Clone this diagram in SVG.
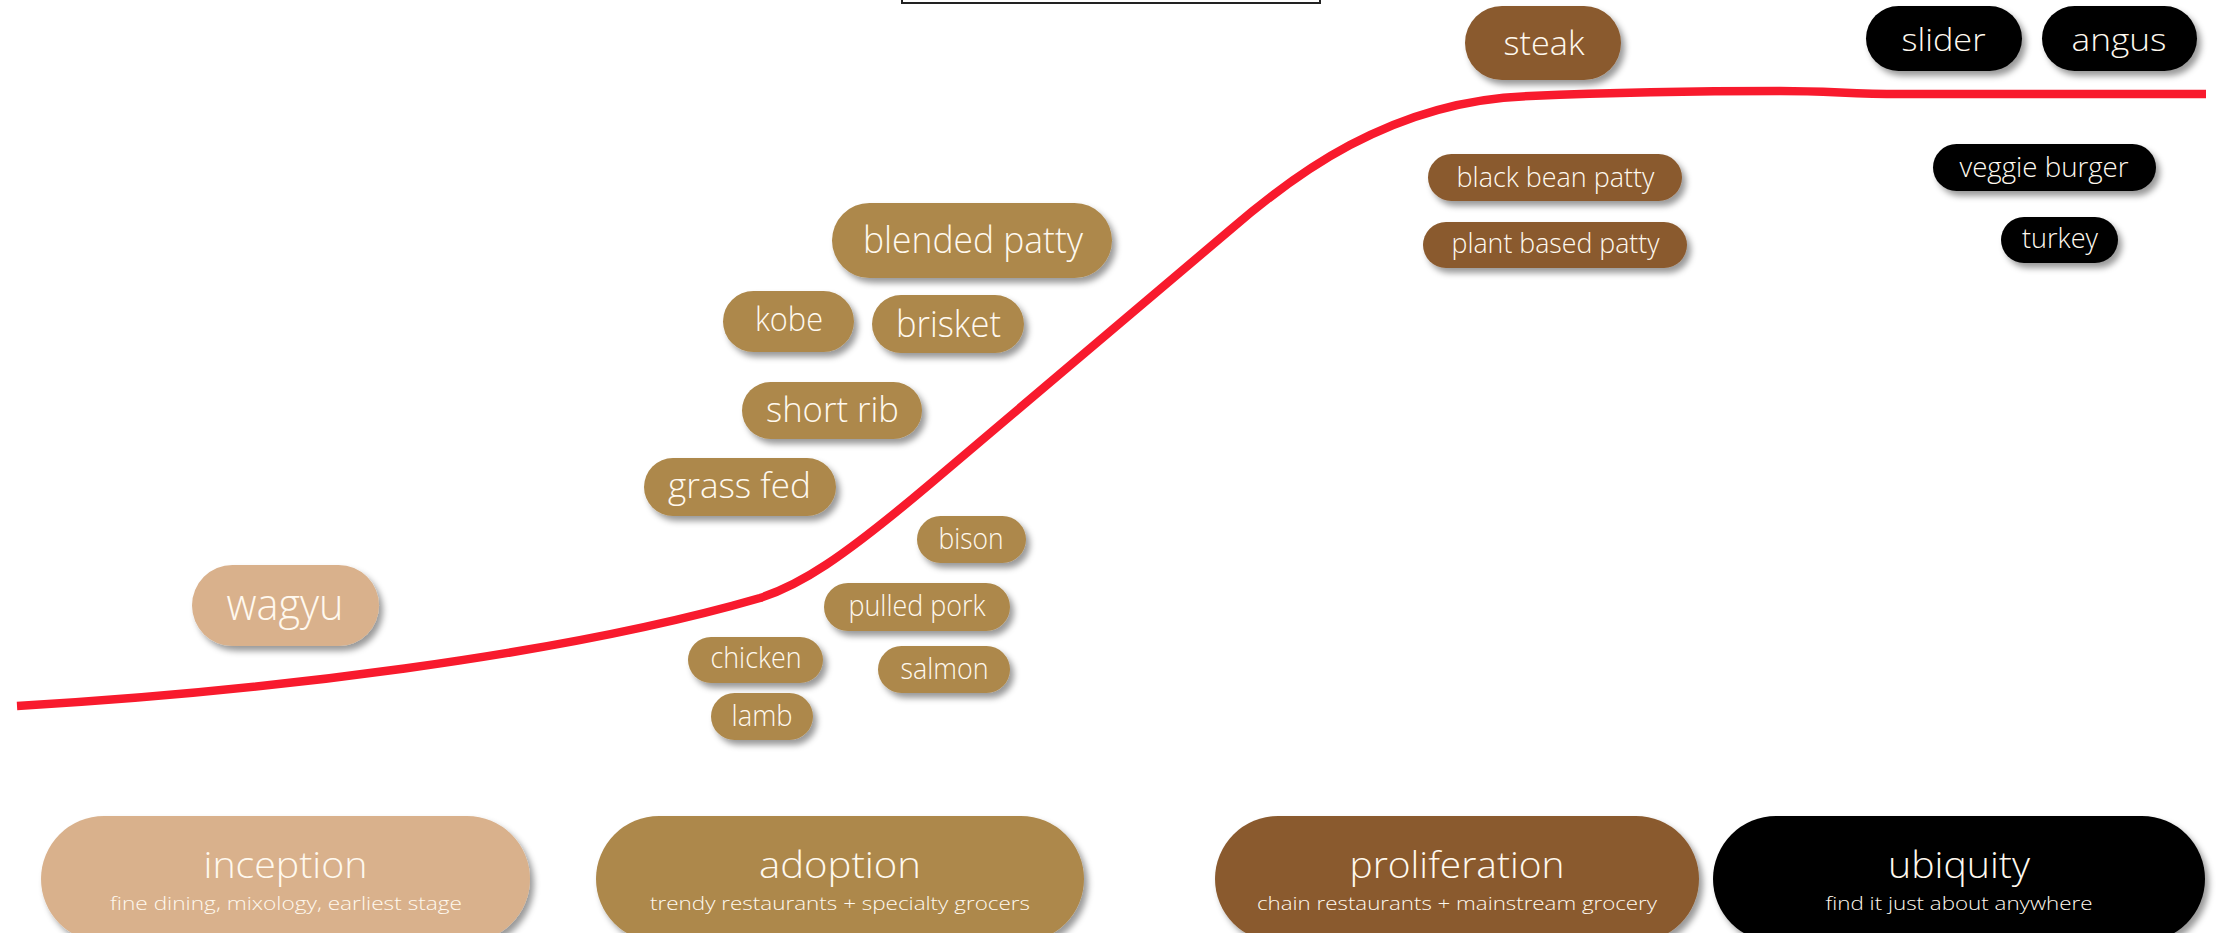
<svg xmlns="http://www.w3.org/2000/svg" width="2219" height="933" viewBox="0 0 2219 933">
<defs>
<filter id="sh" x="-20%" y="-30%" width="140%" height="170%">
<feDropShadow dx="4" dy="5" stdDeviation="3" flood-color="#000" flood-opacity="0.4"/>
</filter>
<style>
.t{font-family:"Open Sans","Liberation Sans",sans-serif;font-weight:300;fill:#FFF9EF;text-anchor:middle}
.c1{fill:#D9B18C}
.c2{fill:#AD884B}
.c3{fill:#8A5A2F}
.c4{fill:#000}
.p{filter:url(#sh)}
</style>
</defs>
<rect width="2219" height="933" fill="#fff"/>
<rect x="902" y="-12" width="418" height="15" fill="#fff" stroke="#222" stroke-width="2"/>

<g id="connectors">
<path d="M17,706 C260,692 560,656 760,598 C800,585 840,560 930,484 L1230,230 C1290,178 1390,100 1530,96 C1600,93 1700,91 1780,91 C1830,91 1850,94 1900,94 L2206,94" fill="none" stroke="#F81A2D" stroke-width="8.5"/>
</g>

<g id="wagyu"><rect class="c1 p" x="192" y="565" width="187" height="81" rx="40.5"/><text class="t" x="285" y="620" font-size="45" textLength="117" lengthAdjust="spacingAndGlyphs">wagyu</text></g>
<g id="blended-patty"><rect class="c2 p" x="832" y="203" width="280" height="75" rx="37.5"/><text class="t" x="973" y="253" font-size="37" textLength="220" lengthAdjust="spacingAndGlyphs">blended patty</text></g>
<g id="kobe"><rect class="c2 p" x="723" y="291" width="131" height="61" rx="30.5"/><text class="t" x="789" y="331" font-size="33" textLength="68" lengthAdjust="spacingAndGlyphs">kobe</text></g>
<g id="brisket"><rect class="c2 p" x="872" y="295" width="152" height="58" rx="29"/><text class="t" x="948.5" y="337" font-size="37" textLength="105" lengthAdjust="spacingAndGlyphs">brisket</text></g>
<g id="short-rib"><rect class="c2 p" x="742" y="382" width="180" height="57" rx="28.5"/><text class="t" x="832.5" y="422" font-size="35" textLength="133" lengthAdjust="spacingAndGlyphs">short rib</text></g>
<g id="grass-fed"><rect class="c2 p" x="644" y="458" width="192" height="58" rx="29"/><text class="t" x="739.5" y="498" font-size="35" textLength="143" lengthAdjust="spacingAndGlyphs">grass fed</text></g>
<g id="bison"><rect class="c2 p" x="917" y="516" width="109" height="47" rx="23.5"/><text class="t" x="971" y="549" font-size="29" textLength="65" lengthAdjust="spacingAndGlyphs">bison</text></g>
<g id="pulled-pork"><rect class="c2 p" x="824" y="583" width="186" height="48" rx="24"/><text class="t" x="917" y="616" font-size="29" textLength="137" lengthAdjust="spacingAndGlyphs">pulled pork</text></g>
<g id="chicken"><rect class="c2 p" x="688" y="637" width="135" height="46" rx="23"/><text class="t" x="756" y="668" font-size="29" textLength="91" lengthAdjust="spacingAndGlyphs">chicken</text></g>
<g id="salmon"><rect class="c2 p" x="878" y="646" width="132" height="47" rx="23.5"/><text class="t" x="944.5" y="679" font-size="29" textLength="88" lengthAdjust="spacingAndGlyphs">salmon</text></g>
<g id="lamb"><rect class="c2 p" x="711" y="693" width="102" height="47" rx="23.5"/><text class="t" x="762" y="726" font-size="29" textLength="61" lengthAdjust="spacingAndGlyphs">lamb</text></g>
<g id="steak"><rect class="c3 p" x="1465" y="6" width="156" height="74" rx="37"/><text class="t" x="1544" y="55" font-size="33" textLength="81" lengthAdjust="spacingAndGlyphs">steak</text></g>
<g id="black-bean-patty"><rect class="c3 p" x="1428" y="154" width="254" height="47" rx="23.5"/><text class="t" x="1555.5" y="187" font-size="28" textLength="198" lengthAdjust="spacingAndGlyphs">black bean patty</text></g>
<g id="plant-based-patty"><rect class="c3 p" x="1423" y="222" width="264" height="46" rx="23"/><text class="t" x="1555.5" y="253" font-size="28" textLength="208" lengthAdjust="spacingAndGlyphs">plant based patty</text></g>
<g id="slider"><rect class="c4 p" x="1866" y="6" width="156" height="65" rx="32.5"/><text class="t" x="1943.5" y="51" font-size="32" textLength="84" lengthAdjust="spacingAndGlyphs">slider</text></g>
<g id="angus"><rect class="c4 p" x="2042" y="6" width="155" height="65" rx="32.5"/><text class="t" x="2119" y="51" font-size="32" textLength="95" lengthAdjust="spacingAndGlyphs">angus</text></g>
<g id="veggie-burger"><rect class="c4 p" x="1933" y="144" width="223" height="47" rx="23.5"/><text class="t" x="2044" y="177" font-size="28" textLength="169" lengthAdjust="spacingAndGlyphs">veggie burger</text></g>
<g id="turkey"><rect class="c4 p" x="2001" y="217" width="117" height="46" rx="23"/><text class="t" x="2060" y="248" font-size="28" textLength="76" lengthAdjust="spacingAndGlyphs">turkey</text></g>

<g id="stage-inception"><rect class="c1 p" x="41" y="816" width="489" height="126" rx="63"/><text class="t" x="285.5" y="878" font-size="37" textLength="164" lengthAdjust="spacingAndGlyphs">inception</text><text class="t" x="286" y="910" font-size="19" textLength="352" lengthAdjust="spacingAndGlyphs">fine dining, mixology, earliest stage</text></g>
<g id="stage-adoption"><rect class="c2 p" x="596" y="816" width="488" height="126" rx="63"/><text class="t" x="840" y="878" font-size="37" textLength="162" lengthAdjust="spacingAndGlyphs">adoption</text><text class="t" x="840" y="910" font-size="19" textLength="380" lengthAdjust="spacingAndGlyphs">trendy restaurants + specialty grocers</text></g>
<g id="stage-proliferation"><rect class="c3 p" x="1215" y="816" width="484" height="126" rx="63"/><text class="t" x="1457" y="878" font-size="37" textLength="215" lengthAdjust="spacingAndGlyphs">proliferation</text><text class="t" x="1457" y="910" font-size="19" textLength="400" lengthAdjust="spacingAndGlyphs">chain restaurants + mainstream grocery</text></g>
<g id="stage-ubiquity"><rect class="c4 p" x="1713" y="816" width="492" height="126" rx="63"/><text class="t" x="1959" y="878" font-size="37" textLength="142" lengthAdjust="spacingAndGlyphs">ubiquity</text><text class="t" x="1959" y="910" font-size="19" textLength="267" lengthAdjust="spacingAndGlyphs">find it just about anywhere</text></g>
</svg>
